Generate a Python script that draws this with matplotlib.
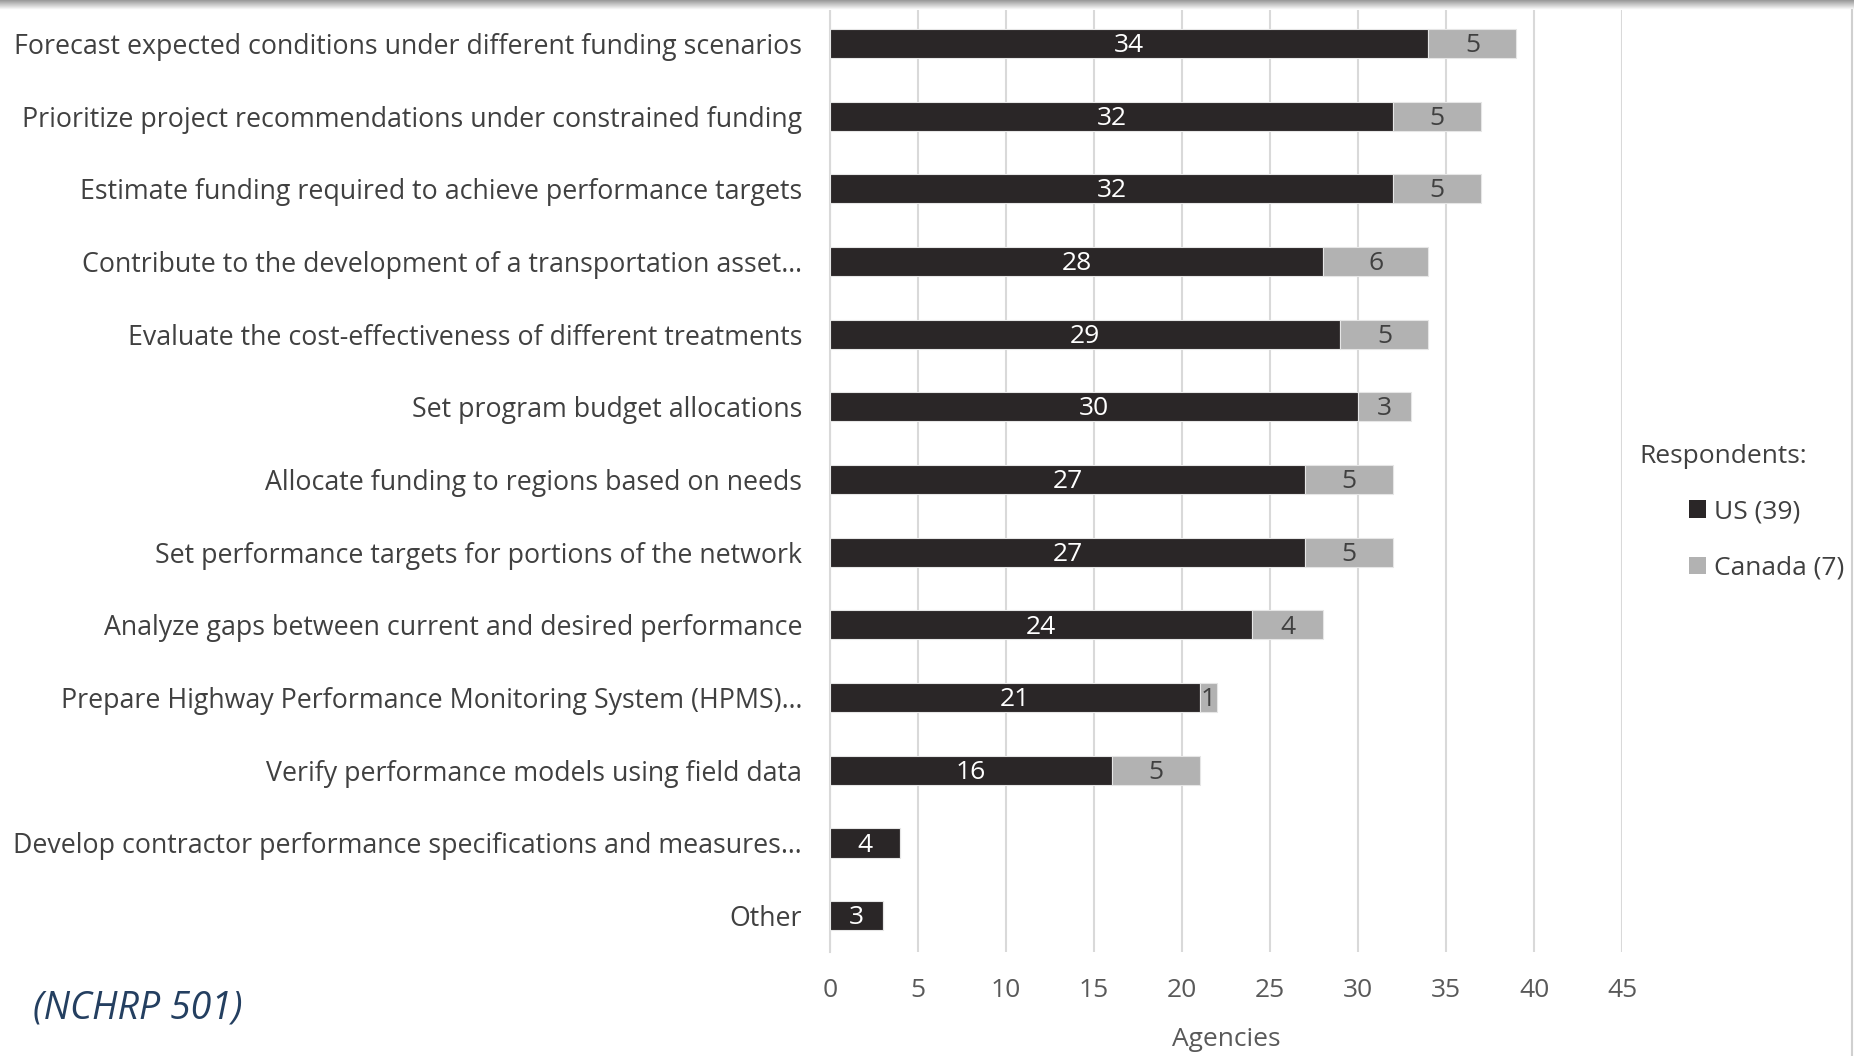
import numpy as np
import matplotlib
matplotlib.use("Agg")
from matplotlib import pyplot as plt
from matplotlib.patches import Patch
from matplotlib.lines import Line2D

# Daten
labels = [
    "Forecast expected conditions under different funding scenarios",
    "Prioritize project recommendations under constrained funding",
    "Estimate funding required to achieve performance targets",
    "Contribute to the development of a transportation asset\u2026",
    "Evaluate the cost-effectiveness of different treatments",
    "Set program budget allocations",
    "Allocate funding to regions based on needs",
    "Set performance targets for portions of the network",
    "Analyze gaps between current and desired performance",
    "Prepare Highway Performance Monitoring System (HPMS)\u2026",
    "Verify performance models using field data",
    "Develop contractor performance specifications and measures\u2026",
    "Other",
]
us = [34, 32, 32, 28, 29, 30, 27, 27, 24, 21, 16, 4, 3]
canada = [5, 5, 5, 6, 5, 3, 5, 5, 4, 1, 5, 0, 0]
x_ticks = [0, 5, 10, 15, 20, 25, 30, 35, 40, 45]

dark = "#2a2627"
grey = "#b2b2b2"
fs = 19

plt.rcParams["font.family"] = ["Open Sans", "DejaVu Sans"]

fig = plt.figure(figsize=(18.54, 10.56), dpi=100)
ax = fig.add_axes([830 / 1854, 1 - 952 / 1056, (1622 - 830) / 1854, (952 - 7) / 1056])

y = np.arange(len(labels))
bars_us = ax.barh(y, us, height=0.4, color=dark, edgecolor="#e6e6e6", linewidth=0.8, zorder=3)
bars_ca = ax.barh(y, canada, left=us, height=0.4, color=grey, edgecolor="#e6e6e6", linewidth=0.8, zorder=3)

# Werte in den Balken
for rect, v in zip(bars_us, us):
    if v > 0:
        ax.text(rect.get_x() + rect.get_width() / 2, rect.get_y() + rect.get_height() / 2 + 0.03,
                str(v), ha="center", va="center", color="white", fontsize=fs, zorder=4)
for rect, v in zip(bars_ca, canada):
    if v > 0:
        ax.text(rect.get_x() + rect.get_width() / 2, rect.get_y() + rect.get_height() / 2 + 0.03,
                str(v), ha="center", va="center", color="#404040", fontsize=fs, zorder=4)

# Achsen
ax.set_xlim(0, 45)
ax.set_ylim(len(labels) - 0.5, -0.5)
ax.set_yticks(y)
ax.set_yticklabels(labels, fontsize=19.3, color="#404040")
ax.set_xticks(x_ticks)
ax.set_xticklabels([str(t) for t in x_ticks], fontsize=fs, color="#595959")
ax.tick_params(axis="y", length=0, pad=20)
ax.tick_params(axis="x", length=0, pad=19)
ax.set_xlabel("Agencies", fontsize=fs, color="#595959", labelpad=17)
ax.grid(axis="x", color="#d9d9d9", linewidth=1.5, zorder=0)
for side in ["top", "right", "bottom"]:
    ax.spines[side].set_visible(False)
ax.spines["left"].set_color("#d9d9d9")
ax.spines["left"].set_linewidth(1.5)

# Legende
fig.text(1639 / 1854, 1 - 456 / 1056, "Respondents:", fontsize=fs, color="#404040", va="center", ha="left")
handles = [Patch(facecolor=dark, label="US (39)"), Patch(facecolor=grey, label="Canada (7)")]
fig.legend(handles=handles, loc="upper left", bbox_to_anchor=(1676 / 1854, 1 - 486 / 1056),
           frameon=False, fontsize=fs, labelcolor="#404040", handlelength=0.65, handleheight=0.65,
           handletextpad=0.3, labelspacing=1.2, borderpad=0)

# Quelle
fig.text(33 / 1854, 1 - 1009 / 1056, "(NCHRP 501)", fontsize=27, style="italic",
         color="#243f60", va="center", ha="left")

# Rahmen oben mit Schatten, Linie rechts
shadow = fig.add_axes([0, 1 - 10 / 1056, 1, 10 / 1056])
grad = np.linspace(0.6, 1.0, 20).reshape(-1, 1)
shadow.imshow(grad, cmap="gray", vmin=0, vmax=1, aspect="auto", extent=[0, 1, 0, 1])
shadow.axis("off")
fig.add_artist(Line2D([1852 / 1854, 1852 / 1854], [0, 1 - 10 / 1056], color="#d0d0d0", linewidth=1.5))

fig.savefig("out.png", dpi=100)
